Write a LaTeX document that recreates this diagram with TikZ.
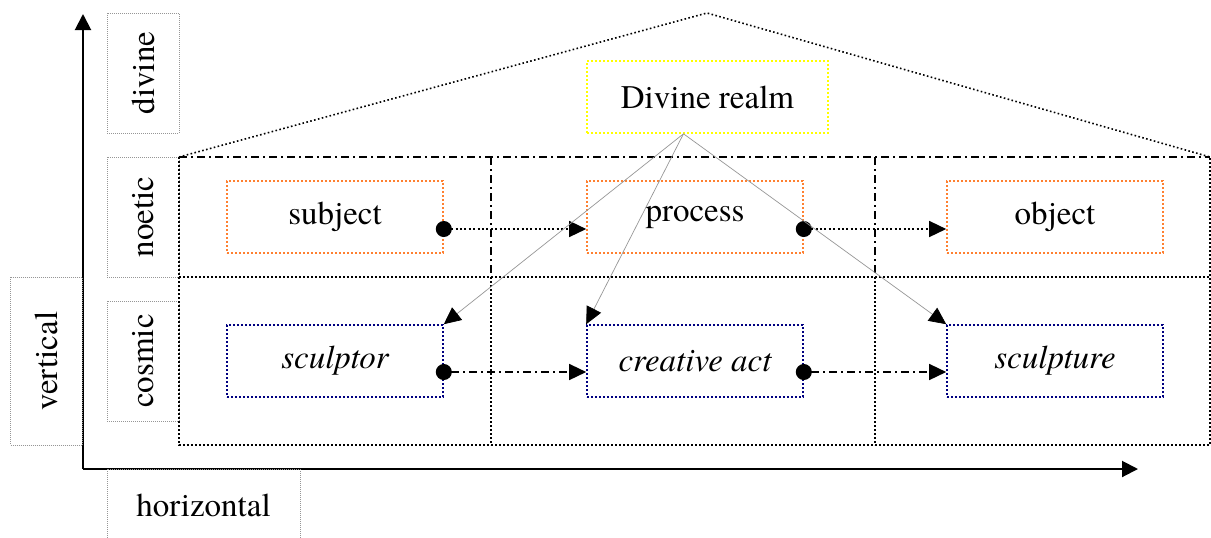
\documentclass[tikz,border=0pt]{standalone}
\usepackage{fontspec}
\setmainfont{TeX Gyre Termes}
\usetikzlibrary{arrows.meta}

\definecolor{noetic}{RGB}{255,128,48}
\definecolor{cosmic}{RGB}{0,0,128}
\definecolor{divine}{RGB}{255,255,0}
\definecolor{sidegray}{RGB}{150,150,150}

\begin{document}
\begin{tikzpicture}
[
    x=0.5pt, y=-0.5pt,
    every node/.style={font=\fontsize{16.5}{19}\selectfont, inner sep=0pt},
    fine dots/.style={line width=0.8pt, dash pattern=on 0.8pt off 1.2pt},
    dash dot/.style={line width=1.1pt, dash pattern=on 4pt off 2pt on 1pt off 2pt},
    sidebox/.style={draw=sidegray, line width=0.5pt, dash pattern=on 0.5pt off 0.5pt,
        minimum height=36pt},
    idea/.style={draw=noetic, fine dots, minimum width=108pt, minimum height=36pt},
    thing/.style={draw=cosmic, fine dots, minimum width=108pt, minimum height=36pt,
        font=\fontsize{16.5}{19}\selectfont\itshape},
    axis/.style={line width=1pt, -{Triangle[length=8pt,width=8pt]}},
    step link/.style={line width=0.7pt, shorten <=-4pt,
        {Circle[length=8pt]}-{Triangle[length=8.5pt,width=8pt]}},
    source/.style={draw=sidegray, line width=0.35pt,
        -{Triangle[length=8.5pt,width=8pt,color=black]}},
]
\useasboundingbox (0,0) rectangle (1211,537);

% axes
\coordinate (origin) at (83,469);
\coordinate (up end) at (83,14);
\coordinate (right end) at (1138,469);
\draw[axis] (origin) -- (up end);
\draw[axis] (origin) -- (right end);

% levels and directions
\node[sidebox, rotate=90, minimum width=60pt] (divinelevel) at (143,73) {divine};
\node[sidebox, rotate=90, minimum width=60pt] (noeticlevel) at (143,217) {noetic};
\node[sidebox, rotate=90, minimum width=60pt] (cosmiclevel) at (143,361) {cosmic};
\node[sidebox, rotate=90, minimum width=84pt] (vertical) at (46.5,361) {vertical};
\node[sidebox, minimum width=96.5pt] (horizontal) at (203.5,505) {horizontal};

% frame and roof
\draw[fine dots] (179,157) -- (707,13) -- (1210,157);
\draw[fine dots] (179,157) -- (179,445) -- (1210,445) -- (1210,157);
\draw[fine dots] (179,277) -- (1210,277);
\draw[dash dot] (179,157) -- (1210,157);
\foreach \x in {491,875} {
    \draw[dash dot] (\x,157) -- (\x,277);
    \draw[fine dots] (\x,277) -- (\x,445);
}

% boxes
\node[draw=divine, fine dots, minimum width=120.5pt, minimum height=36pt] (realm) at (707.5,97) {Divine realm};
\node[idea] (subject) at (335,217) {subject};
\node[idea] (process) at (695,217) {process};
\node[idea] (object) at (1055,217) {object};
\node[thing] (sculptor) at (335,361) {sculptor};
\node[thing] (act) at (695,361) {creative act};
\node[thing] (sculpture) at (1055,361) {sculpture};

% links
\draw[step link, dash pattern=on 1pt off 1.2pt] ([yshift=-6pt]subject.east) -- ([yshift=-6pt]process.west);
\draw[step link, dash pattern=on 1pt off 1.2pt] ([yshift=-6pt]process.east) -- ([yshift=-6pt]object.west);
\draw[step link, dash pattern=on 4pt off 2pt on 1pt off 2pt] ([yshift=-5.5pt]sculptor.east) -- ([yshift=-5.5pt]act.west);
\draw[step link, dash pattern=on 4pt off 2pt on 1pt off 2pt] ([yshift=-5.5pt]act.east) -- ([yshift=-5.5pt]sculpture.west);

\draw[source] ([xshift=-12pt]realm.south) -- (sculptor.north east);
\draw[source] ([xshift=-12pt]realm.south) -- (act.north west);
\draw[source] ([xshift=-12pt]realm.south) -- (sculpture.north west);
\end{tikzpicture}
\end{document}
